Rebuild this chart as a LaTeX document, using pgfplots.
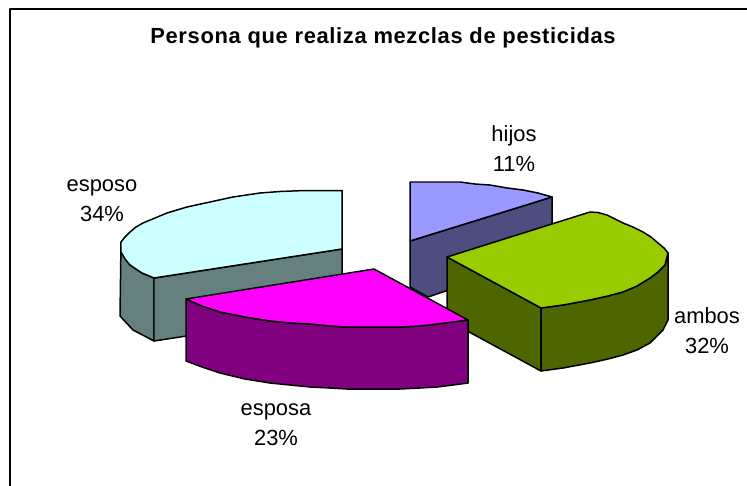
\documentclass[border=0pt]{standalone}
\usepackage{fontspec}
\setmainfont{Liberation Sans}
\usepackage{pgfplots}
\pgfplotsset{compat=1.18}
\definecolor{c1}{HTML}{CCFFFF}\definecolor{c1d}{HTML}{668080}
\definecolor{c2}{HTML}{9999FF}\definecolor{c2d}{HTML}{4D4D80}
\definecolor{c3}{HTML}{99CC00}\definecolor{c3d}{HTML}{4D6600}
\definecolor{c4}{HTML}{FF00FF}\definecolor{c4d}{HTML}{800080}
\tikzset{lbl/.style={font=\fontsize{22}{30}\selectfont, align=center, text=black}}
\begin{document}
\begin{tikzpicture}
\begin{axis}[
  scale only axis, width=747bp, height=486bp,
  xmin=0, xmax=747, ymin=0, ymax=486, y dir=reverse,
  hide axis, clip=true,
  every axis plot/.append style={draw=black, line width=1.5pt, line join=round}]
% background (fixes the page to the full extent)
\addplot[fill=white, draw=none, forget plot] coordinates {(0,0) (747,0) (747,486) (0,486)} --cycle;
% frame
\addplot[draw=black, line width=1.5pt, forget plot] coordinates {(10,486) (10,9) (747,9)};
% esposo
\addplot[fill=c1d] coordinates {(121,242) (121,252) (130,265) (142,273) (154,278) (154,341) (133,330) (120,316)} --cycle;
\addplot[fill=c1d] coordinates {(154,278) (342,249) (342,312) (154,341)} --cycle;
\addplot[fill=c1] coordinates {(342,190.5) (300,190.7) (280,191.5) (260,193) (233,197) (210,202) (187,207) (167,213) (155,218) (143,223) (136,227) (130,232) (125,237) (121,242) (121,252) (125,259) (130,265) (136,269) (142,273) (154,278) (342,249)} --cycle;
% hijos
\addplot[fill=c2d] coordinates {(410,241) (552,197) (552,255) (428,297) (410,287)} --cycle;
\addplot[fill=c2] coordinates {(410,182) (460,182) (475,184) (490,185) (507,188) (523,190) (538,193) (552,197) (410,241)} --cycle;
% ambos
\addplot[fill=c3d] coordinates {(447,257) (541,308) (541,371) (447,320)} --cycle;
\addplot[fill=c3d] coordinates {(541,308) (563,305) (590,300) (608,296) (623,292) (637,286) (650,278) (658,272) (665,265) (668,253) (668,320) (663,330) (650,343) (637,350) (623,355) (608,359) (590,363) (563,368) (541,371)} --cycle;
\addplot[fill=c3] coordinates {(447,257) (590,212) (598,212.5) (607,215) (615,219) (623,223) (633,227) (643,232) (651,237) (658,243) (664,248) (668,253) (665,265) (658,272) (650,278) (637,286) (623,292) (608,296) (590,300) (563,305) (541,308)} --cycle;
% esposa
\addplot[fill=c4d] coordinates {(186,299) (202,306) (220,312) (245,317) (270,321) (290,323) (310,324) (330,326) (347,327) (400,327) (420,326) (437,324) (453,322) (468,320) (468,383) (453,385) (437,387) (420,388) (400,389) (347,389) (330,388) (310,387) (290,385) (270,383) (245,379) (220,373) (202,367) (186,361)} --cycle;
\addplot[fill=c4] coordinates {(374,269) (468,320) (453,322) (437,324) (420,326) (400,327) (347,327) (330,326) (310,324) (290,323) (270,321) (245,317) (220,312) (202,306) (186,299)} --cycle;
% text
\node[font=\bfseries\fontsize{22}{26}\selectfont\addfontfeature{LetterSpace=3}] at (axis cs:383,38) {Persona que realiza mezclas de pesticidas};
\node[lbl] at (axis cs:102,201) {esposo\\34\%};
\node[lbl] at (axis cs:514,149) {hijos\\11\%};
\node[lbl] at (axis cs:707,331) {ambos\\32\%};
\node[lbl] at (axis cs:276,425) {esposa\\23\%};
\end{axis}
\end{tikzpicture}
\end{document}
